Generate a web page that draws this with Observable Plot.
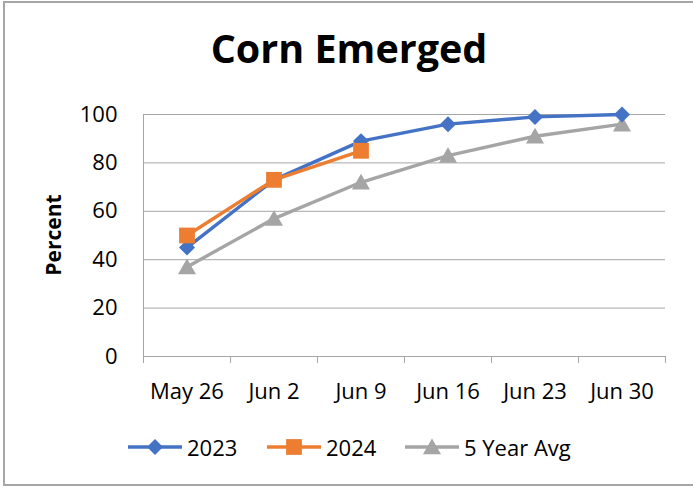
<!DOCTYPE html>
<html>
<head>
<meta charset="utf-8">
<script src="https://cdn.jsdelivr.net/npm/d3@7"></script>
<script src="https://cdn.jsdelivr.net/npm/@observablehq/plot@0.6"></script>
<style>
  html, body { margin: 0; padding: 0; background: #fff; }
  #wrap { position: relative; width: 693px; height: 489px; overflow: hidden; font-family: "Open Sans", sans-serif; color: #000; }
  #frame { position: absolute; left: 3px; top: 1px; width: 720px; height: 485px; border-left: 2px solid #a6a6a6; border-top: 2px solid #a6a6a6; border-bottom: 2px solid #a6a6a6; box-sizing: border-box; }
  #chart { position: absolute; left: 0; top: 0; }
  #title { position: absolute; left: 0; width: 698px; top: 21px; text-align: center; font-weight: 700; font-size: 39.5px; line-height: 54px; }
  #ylabel { position: absolute; left: 53px; top: 235px; transform: translate(-50%, -50%) rotate(-90deg); font-weight: 700; font-size: 21px; white-space: nowrap; }
  #legend { position: absolute; top: 432px; left: 0; height: 30px; }
  .item { position: absolute; top: 0; height: 30px; display: flex; align-items: center; font-size: 22px; white-space: nowrap; }
  .item svg { margin-right: 5px; }
</style>
</head>
<body>
<div id="wrap">
  <div id="frame"></div>
  <div id="chart"></div>
  <div id="title">Corn Emerged</div>
  <div id="ylabel">Percent</div>
  <div id="legend"></div>
</div>
<script>
// Data
const categories = ["May 26", "Jun 2", "Jun 9", "Jun 16", "Jun 23", "Jun 30"];
const values2023 = [45, 73, 89, 96, 99, 100];
const values2024 = [50, 73, 85];
const valuesAvg = [37, 57, 72, 83, 91, 96];
const seriesNames = ["2023", "2024", "5 Year Avg"];
const seriesColors = ["#4472C4", "#ED7D31", "#A5A5A5"];
const yTicks = [0, 20, 40, 60, 80, 100];

const seriesValues = [values2023, values2024, valuesAvg];
const rows = [];
seriesValues.forEach((vals, s) => vals.forEach((v, i) => rows.push({series: seriesNames[s], i, value: v})));
const idx = categories.map((_, i) => i);
const boundaries = d3.range(-0.5, categories.length, 1);

const gridColor = "#a6a6a6";
const symbols = {"2023": "diamond2", "2024": "square", "5 Year Avg": "triangle"};
const radii = {"2023": 7.2, "2024": 8.9, "5 Year Avg": 6.7};
const dys = {"2023": 0, "2024": 0, "5 Year Avg": 2};

const marks = [
  Plot.ruleY(yTicks.filter(d => d > 0), {stroke: gridColor, strokeWidth: 1}),
  Plot.ruleY([0], {stroke: gridColor, strokeWidth: 1}),
  Plot.ruleX([-0.5], {y1: 0, y2: 100, stroke: gridColor, strokeWidth: 1}),
  Plot.axisX({ticks: boundaries, tickSize: 7, tickFormat: () => "", stroke: gridColor, label: null}),
  Plot.axisX({ticks: idx, tickSize: 0, tickPadding: 27, tickFormat: i => categories[i], fontSize: 22, label: null}),
  Plot.axisY({ticks: yTicks, tickSize: 0, tickPadding: 26, fontSize: 22, label: null})
];
// draw 5yr avg first, then 2023, then 2024 on top
const order = ["5 Year Avg", "2023", "2024"];
for (const name of order) {
  const data = rows.filter(r => r.series === name);
  const c = seriesColors[seriesNames.indexOf(name)];
  marks.push(Plot.line(data, {x: "i", y: "value", stroke: c, strokeWidth: 3.4}));
}
for (const name of order) {
  const data = rows.filter(r => r.series === name);
  const c = seriesColors[seriesNames.indexOf(name)];
  marks.push(Plot.dot(data, {x: "i", y: "value", fill: c, stroke: "none", symbol: symbols[name], r: radii[name], dy: dys[name]}));
}

const chart = Plot.plot({
  width: 693,
  height: 489,
  marginLeft: 143,
  marginRight: 28,
  marginTop: 114,
  marginBottom: 133,
  x: {type: "linear", domain: [-0.5, categories.length - 0.5]},
  y: {domain: [0, 100]},
  style: {fontFamily: "Open Sans, sans-serif", color: "#000", background: "transparent", overflow: "visible"},
  marks
});
document.getElementById("chart").appendChild(chart);

// Legend
const legend = document.getElementById("legend");
const legendX = [128, 267, 405];
seriesNames.forEach((name, k) => {
  const c = seriesColors[k];
  const item = document.createElement("div");
  item.className = "item";
  item.style.left = legendX[k] + "px";
  const sym = d3.symbol(d3[{"diamond2": "symbolDiamond2", "square": "symbolSquare", "triangle": "symbolTriangle"}[symbols[name]]], Math.PI * radii[name] * radii[name])();
  item.innerHTML = `<svg width="54" height="30"><line x1="0" x2="54" y1="15" y2="15" stroke="${c}" stroke-width="3.4"/><path transform="translate(27,${15 + dys[name]})" d="${sym}" fill="${c}"/></svg><span>${name}</span>`;
  legend.appendChild(item);
});
</script>
</body>
</html>
